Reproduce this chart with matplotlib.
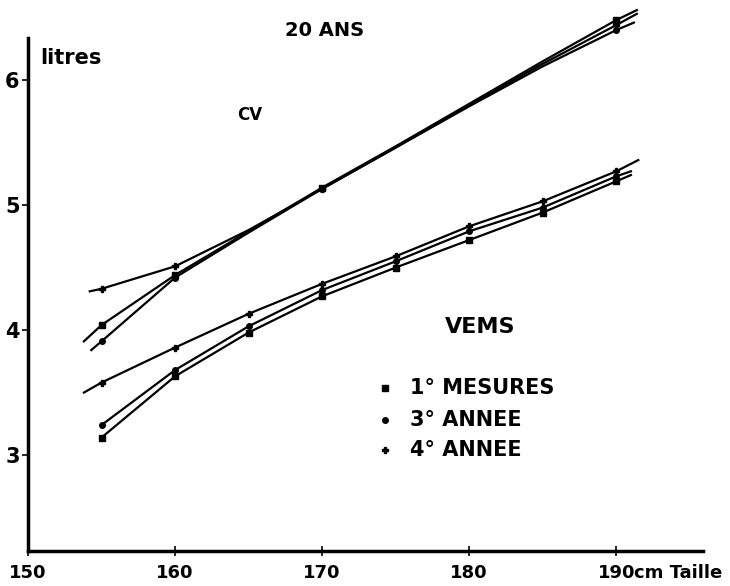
import matplotlib.pyplot as plt
import numpy as np

# taille (cm) et volumes (litres)
taille_cv_1 = [153.8, 155, 160, 165, 170, 175, 180, 185, 190, 191.4]
cv_1 = [3.91, 4.04, 4.44, 4.79, 5.14, 5.47, 5.81, 6.15, 6.48, 6.56]
taille_cv_3 = [154.3, 155, 160, 165, 170, 175, 180, 185, 190, 191.2]
cv_3 = [3.84, 3.91, 4.42, 4.78, 5.13, 5.46, 5.79, 6.11, 6.40, 6.46]
taille_cv_4 = [154.2, 155, 160, 165, 170, 175, 180, 185, 190, 191.4]
cv_4 = [4.31, 4.33, 4.51, 4.80, 5.13, 5.46, 5.80, 6.13, 6.44, 6.53]

taille_vems_1 = [155, 160, 165, 170, 175, 180, 185, 190, 191.0]
vems_1 = [3.14, 3.63, 3.98, 4.27, 4.50, 4.72, 4.94, 5.19, 5.24]
taille_vems_3 = [155, 160, 165, 170, 175, 180, 185, 190, 191.0]
vems_3 = [3.24, 3.68, 4.03, 4.32, 4.55, 4.79, 4.98, 5.23, 5.27]
taille_vems_4 = [153.8, 155, 160, 165, 170, 175, 180, 185, 190, 191.5]
vems_4 = [3.50, 3.58, 3.86, 4.13, 4.37, 4.59, 4.83, 5.03, 5.27, 5.36]

xticks = [150, 160, 170, 180, 190]
xlabels = ['150', '160', '170', '180', '190']
yticks = [3, 4, 5, 6]

legende = ['1° MESURES', '3° ANNEE', '4° ANNEE']
marqueurs = ['s', 'o', 'P']

plt.rcParams['font.family'] = 'DejaVu Sans'
plt.rcParams['font.weight'] = 'bold'

fig = plt.figure(figsize=(7.30, 5.86), dpi=100)
ax = fig.add_axes([0.0384, 0.0597, 0.9246, 0.8753])

cv = [(taille_cv_1, cv_1), (taille_cv_3, cv_3), (taille_cv_4, cv_4)]
vems = [(taille_vems_1, vems_1), (taille_vems_3, vems_3), (taille_vems_4, vems_4)]

for (t, v), m in zip(cv, marqueurs):
    idx = [i for i, x in enumerate(t) if x in (155, 160, 170, 190)]
    ax.plot(t, v, color='black', lw=1.6, marker=m, ms=4, markevery=idx, clip_on=False)

for (t, v), m in zip(vems, marqueurs):
    idx = [i for i, x in enumerate(t) if x in (155, 160, 165, 170, 175, 180, 185, 190)]
    ax.plot(t, v, color='black', lw=1.6, marker=m, ms=4, markevery=idx, clip_on=False)

ax.set_xlim(150, 195.9)
ax.set_ylim(2.232, 6.336)

for s in ['top', 'right']:
    ax.spines[s].set_visible(False)
for s in ['left', 'bottom']:
    ax.spines[s].set_linewidth(2.5)

ax.set_xticks(xticks)
ax.set_xticklabels(xlabels, fontsize=13)
ax.set_yticks(yticks)
ax.set_yticklabels([str(y) for y in yticks], fontsize=15)
ax.tick_params(axis='x', direction='inout', length=7, width=1.2, pad=6)
ax.tick_params(axis='y', direction='out', length=4, width=1.2, pad=2)

ax.annotate('cm Taille', xy=(190, 0), xycoords=ax.get_xaxis_transform(),
            xytext=(13, -9.5), textcoords='offset points', ha='left', va='top',
            fontsize=13)

ax.text(0.018, 0.961, 'litres', transform=ax.transAxes, fontsize=15, va='center')
fig.text(325 / 730, 1 - 30 / 586, '20 ANS', fontsize=14, ha='center', va='center')
ax.text(0.329, 0.85, 'CV', transform=ax.transAxes, fontsize=12, ha='center', va='center')
ax.text(0.67, 0.437, 'VEMS', transform=ax.transAxes, fontsize=16, ha='center', va='center')

ly = [0.318, 0.255, 0.197]
for y, lab, m in zip(ly, legende, marqueurs):
    ax.plot([0.529], [y], transform=ax.transAxes, marker=m, color='black', ms=4, ls='none')
    ax.text(0.566, y, lab, transform=ax.transAxes, fontsize=15, va='center')

plt.savefig('out.png')
